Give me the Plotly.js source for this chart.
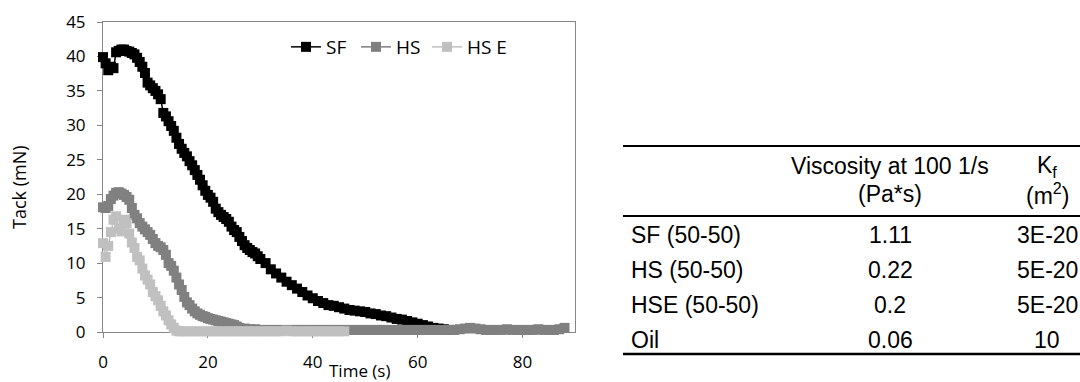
<!DOCTYPE html>
<html>
<head>
<meta charset="utf-8">
<script src="https://cdn.plot.ly/plotly-3.0.1.min.js"></script>
<style>
  html, body { margin: 0; padding: 0; background: #fff; }
  #chart { width: 1080px; height: 382px; }
</style>
</head>
<body>
<div id="chart"></div>
<script>
// ---------------- data ----------------
const seriesNames = ['SF', 'HS', 'HS E'];

const sfTime = [0,0.5,1,1.5,2,2.5,3,3.5,4,4.5,5,5.5,6,6.5,7,7.5,8,8.5,9,9.5,10,10.5,11,11.5,12,12.5,13,13.5,14,14.5,15,15.5,16,16.5,17,17.5,18,18.5,19,19.5,20,20.5,21,21.5,22,22.5,23,23.5,24,24.5,25,25.5,26,26.5,27,27.5,28,28.5,29,29.5,30,
  31,32,33,34,35,36,37,38,39,40,41,42,43,44,45,46,47,48,49,50,51,52,53,54,55,56,57,58,59,60,61,62,63,64,65,66];
const sfTack = [39.9,39.0,38.0,38.5,38.3,40.6,40.8,41.0,41.0,40.8,40.7,40.5,40.3,39.8,39.2,38.5,37.6,36.2,35.8,35.4,35.0,34.5,33.8,31.8,31.3,30.6,29.9,29.2,28.2,27.3,26.6,26.0,25.5,24.8,24.2,23.5,22.8,22.1,21.3,20.5,19.9,19.5,18.9,17.9,17.4,17.0,16.7,16.4,16.0,15.3,14.8,14.5,13.8,13.2,12.6,12.2,11.9,11.6,11.4,11.0,10.6,
  10.0,9.1,8.5,7.9,7.3,6.8,6.3,5.8,5.3,4.9,4.5,4.2,3.9,3.8,3.6,3.4,3.2,3.1,3.0,2.9,2.7,2.6,2.4,2.3,2.1,1.9,1.8,1.6,1.4,1.2,1.0,0.8,0.6,0.5,0.4,0.3];

const hsTime = [0,0.5,1,1.5,2,2.5,3,3.5,4,4.5,5,5.5,6,6.5,7,7.5,8,8.5,9,9.5,10,10.5,11,11.5,12,12.5,13,13.5,14,14.5,15,15.5,16,16.5,17,17.5,18,18.5,19,19.5,20,20.5,21,21.5,22,22.5,23,23.5,24,24.5,25,25.5,26,
  27,28,29,30,31,32,33,34,35,36,37,38,39,40,41,42,43,44,45,46,47,48,49,50,51,52,53,54,55,56,57,58,59,60,61,62,63,64,65,66,67,68,69,70,71,72,73,74,75,76,77,78,79,80,81,82,83,84,85,86,87,88,89,90];
const hsTack = [18.1,18.0,18.3,19.3,19.8,20.2,20.3,20.1,19.9,19.6,19.2,18.0,17.0,16.5,15.8,15.3,14.9,14.5,14.1,13.5,12.9,12.5,12.3,11.9,11.2,10.0,9.6,8.9,7.9,6.9,6.1,5.1,4.3,3.9,3.4,3.0,2.7,2.5,2.3,2.2,2.0,1.9,1.8,1.7,1.6,1.5,1.4,1.3,1.2,1.1,1.0,0.8,0.6,
  0.5,0.4,0.4,0.3,0.3,0.3,0.3,0.3,0.3,0.3,0.3,0.3,0.3,0.3,0.3,0.3,0.3,0.3,0.3,0.3,0.3,0.3,0.3,0.3,0.3,0.3,0.3,0.3,0.3,0.3,0.3,0.3,0.3,0.3,0.3,0.3,0.3,0.3,0.3,0.3,0.3,0.4,0.5,0.6,0.5,0.4,0.3,0.3,0.3,0.3,0.4,0.3,0.3,0.3,0.3,0.3,0.4,0.3,0.3,0.3,0.4,0.6];

const hseTime = [0,0.5,1,1.5,2,2.5,3,3.5,4,4.5,5,5.5,6,6.5,7,7.5,8,8.5,9,9.5,10,10.5,11,11.5,12,12.5,13,13.5,14,14.5,15,
  16,17,18,19,20,21,22,23,24,25,26,27,28,29,30,31,32,33,34,35,36,37,38,39,40,41,42,43,44,45,46];
const hseTack = [12.9,10.9,12.5,14.5,16.3,16.8,15.0,14.6,16.3,15.8,14.3,13.0,12.2,10.9,10.4,9.2,8.2,7.6,6.9,5.8,5.2,4.6,3.8,3.0,2.4,1.7,1.1,0.6,0.2,0.1,0.1,
  0.1,0.1,0.1,0.1,0.1,0.1,0.1,0.1,0.1,0.1,0.1,0.1,0.1,0.1,0.1,0.1,0.1,0.1,0.1,0.2,0.1,0.1,0.1,0.1,0.1,0.1,0.1,0.1,0.1,0.1,0.1];

const xTickVals = [0, 20, 40, 60, 80];
const yTickVals = [0, 5, 10, 15, 20, 25, 30, 35, 40, 45];
const xTitle = 'Time (s)';
const yTitle = 'Tack (mN)';

// table content
const headerLine1 = ['', 'Viscosity at 100 1/s', 'K<sub>f</sub>'];
const headerLine2 = ['', '(Pa*s)', '(m<sup>2</sup>)'];
const rowLabels = ['SF (50-50)', 'HS (50-50)', 'HSE (50-50)', 'Oil'];
const viscosity = ['1.11', '0.22', '0.2', '0.06'];
const kf = ['3E-20', '5E-20', '5E-20', '10'];

// ---------------- styling / layout ----------------
const colors = ['#000000', '#808080', '#c0c0c0'];
const W = 1080, H = 382;
const M = { l: 103, r: 505, t: 22, b: 50 };
const plotW = W - M.l - M.r, plotH = H - M.t - M.b;
const px2x = px => (px - M.l) / plotW;
const py2y = py => (H - M.b - py) / plotH;

const chartFont = 'Open Sans, Lato, sans-serif';
const tableFont = 'Liberation Sans, Arial, sans-serif';
const tableSize = 23;

const legendIds = ['legend', 'legend2', 'legend3'];
const legendLeftPx = [286, 356, 427];

const xs = [sfTime, hsTime, hseTime];
const ys = [sfTack, hsTack, hseTack];
const traces = seriesNames.map((name, i) => ({
  type: 'scatter',
  mode: 'lines+markers',
  name: name,
  legend: legendIds[i],
  x: xs[i],
  y: ys[i],
  cliponaxis: false,
  line: { color: colors[i], width: 1.5 },
  marker: { symbol: 'square', size: 10, color: colors[i], line: { width: 0 } }
}));

const shapes = [];
const annotations = [];

// table rules
const ruleX0 = 623, ruleX1 = 1080;
[[146, 2], [216, 2], [354, 2.5]].forEach(([py, w]) => {
  shapes.push({
    type: 'line', xref: 'paper', yref: 'paper',
    x0: px2x(ruleX0), x1: px2x(ruleX1), y0: py2y(py), y1: py2y(py),
    line: { color: '#000', width: w }
  });
});

const colX = [629, 890, 1047];
const colAnchor = ['left', 'center', 'center'];
function cell(text, col, py) {
  if (!text) return;
  annotations.push({
    text: text, showarrow: false, xref: 'paper', yref: 'paper',
    x: px2x(colX[col]), y: py2y(py), xanchor: colAnchor[col], yanchor: 'middle',
    font: { family: tableFont, size: tableSize, color: '#000' }
  });
}
headerLine1.forEach((t, c) => cell(t, c, 166));
headerLine2.forEach((t, c) => cell(t, c, 194));
const rowY0 = 235, rowStep = 35;
rowLabels.forEach((t, r) => {
  cell(t, 0, rowY0 + r * rowStep);
  cell(viscosity[r], 1, rowY0 + r * rowStep);
  cell(kf[r], 2, rowY0 + r * rowStep);
});

// axis titles, placed where the reference puts them
annotations.push({
  text: xTitle, showarrow: false, xref: 'paper', yref: 'paper',
  x: px2x(359), y: py2y(370), xanchor: 'center', yanchor: 'middle', borderpad: 0,
  font: { family: chartFont, size: 17, color: '#000' }
});
annotations.push({
  text: yTitle, showarrow: false, xref: 'paper', yref: 'paper', textangle: -90,
  x: px2x(19), y: py2y(187), xanchor: 'center', yanchor: 'middle', borderpad: 0,
  font: { family: chartFont, size: 18, color: '#000' }
});

const axisCommon = {
  showgrid: false, zeroline: false, showline: true, mirror: true,
  linecolor: '#868686', linewidth: 1,
  ticks: 'outside', ticklen: 5, tickcolor: '#868686', tickwidth: 1,
  tickfont: { family: chartFont, size: 17, color: '#000' },
  layer: 'below traces', fixedrange: true
};

const layout = {
  width: W, height: H,
  margin: M,
  paper_bgcolor: '#fff', plot_bgcolor: '#fff',
  showlegend: true,
  xaxis: Object.assign({}, axisCommon, {
    range: [0, 90], tickvals: xTickVals, ticktext: xTickVals.map(String),
    ticklabelstandoff: 10
  }),
  yaxis: Object.assign({}, axisCommon, {
    range: [0, 45], tickvals: yTickVals, ticktext: yTickVals.map(String),
    ticklabelstandoff: 8
  }),
  shapes: shapes,
  annotations: annotations
};
legendIds.forEach((id, i) => {
  layout[id] = {
    orientation: 'h', x: px2x(legendLeftPx[i]), y: py2y(47), xanchor: 'left', yanchor: 'middle',
    bgcolor: 'rgba(0,0,0,0)', borderwidth: 0,
    font: { family: chartFont, size: 19, color: '#000' },
    itemwidth: 30
  };
});

Plotly.newPlot('chart', traces, layout, { staticPlot: true, displayModeBar: false });
</script>
</body>
</html>
